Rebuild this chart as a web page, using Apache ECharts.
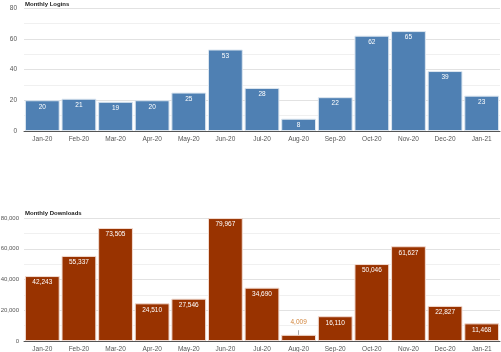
<!DOCTYPE html>
<html>
<head>
<meta charset="utf-8">
<script src="https://cdn.jsdelivr.net/npm/echarts@6/dist/echarts.min.js"></script>
<style>
  html, body { margin: 0; padding: 0; background: #fff; }
  #chart { width: 501px; height: 352px; }
</style>
</head>
<body>
<div id="chart"></div>
<script>
const months = ['Jan-20', 'Feb-20', 'Mar-20', 'Apr-20', 'May-20', 'Jun-20', 'Jul-20',
  'Aug-20', 'Sep-20', 'Oct-20', 'Nov-20', 'Dec-20', 'Jan-21']
const logins = [20, 21, 19, 20, 25, 53, 28, 8, 22, 62, 65, 39, 23]
const downloads = [42243, 55337, 73505, 24510, 27546, 79967, 34690, 4009, 16110, 50046, 61627, 22827, 11468]

const font = 'Liberation Sans, Arial, sans-serif'
const fmt = v => v.toLocaleString('en-US')

function xAxis(gridIndex) {
  return {
    type: 'category',
    gridIndex,
    data: months,
    axisLine: { lineStyle: { color: '#555', width: 1 } },
    axisTick: { show: false },
    axisLabel: { color: '#555', fontSize: 6.5, fontFamily: font, margin: 5 },
  }
}
function yAxis(gridIndex, max, interval, labelFmt, size, margin) {
  return {
    type: 'value',
    gridIndex,
    min: 0,
    max,
    interval,
    axisLine: { show: false },
    axisTick: { show: false },
    axisLabel: { color: '#555', fontSize: size, fontFamily: font, margin, formatter: labelFmt },
    splitLine: { lineStyle: { color: '#e2e2e2', width: 1 } },
    minorTick: { show: false, splitNumber: 2 },
    minorSplitLine: { show: true, lineStyle: { color: '#f0f0f0', width: 1 } },
  }
}

const chart = echarts.init(document.getElementById('chart'))
chart.setOption({
  animation: false,
  title: [
    { text: 'Monthly Logins', left: 25, top: 1, padding: 0, textStyle: { fontSize: 6, fontWeight: 'bold', color: '#222', fontFamily: font } },
    { text: 'Monthly Downloads', left: 25, top: 210, padding: 0, textStyle: { fontSize: 6, fontWeight: 'bold', color: '#222', fontFamily: font } },
  ],
  grid: [
    { left: 24, right: 1, top: 8, height: 123, containLabel: false, outerBoundsMode: 'none' },
    { left: 24, right: 1, top: 218, height: 123, containLabel: false, outerBoundsMode: 'none' },
  ],
  xAxis: [xAxis(0), xAxis(1)],
  yAxis: [
    yAxis(0, 80, 20, v => v, 6.5, 7),
    yAxis(1, 80000, 20000, v => fmt(v), 6, 5),
  ],
  series: [
    {
      type: 'bar',
      xAxisIndex: 0,
      yAxisIndex: 0,
      data: logins,
      barCategoryGap: '5%',
      itemStyle: { color: '#4f80b3', borderColor: '#dce6f0', borderWidth: 1 },
      label: {
        show: true, position: 'insideTop', distance: 3,
        color: '#fff', fontSize: 6.5, fontFamily: font,
      },
    },
    {
      type: 'bar',
      xAxisIndex: 1,
      yAxisIndex: 1,
      data: downloads.map((v, i) => i === 7
        ? {
          value: v,
          label: { position: 'top', distance: 9, color: '#d2843a' },
        }
        : v),
      barCategoryGap: '5%',
      itemStyle: { color: '#993300', borderColor: '#f2dcd2', borderWidth: 1 },
      label: {
        show: true, position: 'insideTop', distance: 3,
        color: '#fff', fontSize: 6.5, fontFamily: font,
        formatter: p => fmt(p.value),
      },
      markLine: {
        silent: true,
        symbol: 'none',
        label: { show: false },
        lineStyle: { color: '#aaa', width: 1, type: 'solid' },
        data: [[
          { xAxis: months[7], yAxis: downloads[7] },
          { xAxis: months[7], yAxis: downloads[7] + 3000 },
        ]],
      },
    },
  ],
})
</script>
</body>
</html>
